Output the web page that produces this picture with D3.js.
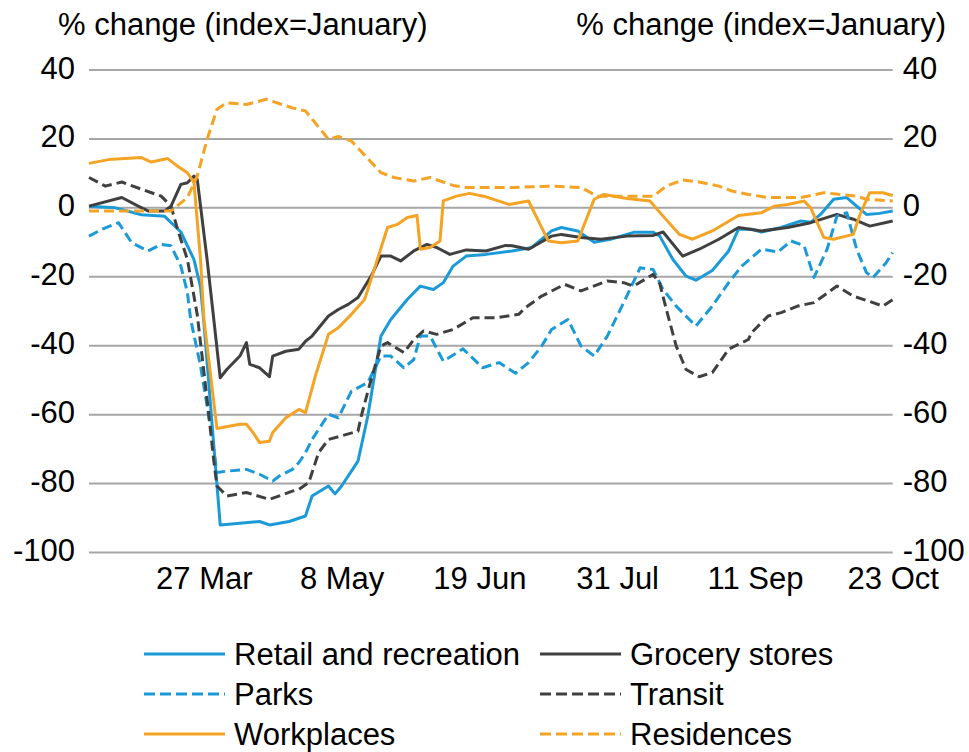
<!DOCTYPE html>
<html>
<head>
<meta charset="utf-8">
<script src="https://cdn.jsdelivr.net/npm/d3@7"></script>
<style>
  body { margin: 0; background: #fff; }
  text { font-family: "Liberation Sans", Arial, sans-serif; fill: #000; }
</style>
</head>
<body>
<div id="chart"></div>
<script>
// date range of the chart and the x tick labels
const dateRange = ['2020-02-21', '2020-10-23'];
const tickDates = ['2020-03-27', '2020-05-08', '2020-06-19', '2020-07-31', '2020-09-11', '2020-10-23'];
const yTicks = [40, 20, 0, -20, -40, -60, -80, -100];
const axisTitle = '% change (index=January)';

// series: [date, % change]
const retail = [
  ['2020-02-21', 0.5], ['2020-02-29', 0], ['2020-03-08', -2], ['2020-03-15', -2.4], ['2020-03-20', -7],
  ['2020-03-24', -15], ['2020-03-26', -23], ['2020-03-27', -33], ['2020-04-01', -92], ['2020-04-07', -91.5],
  ['2020-04-13', -91], ['2020-04-16', -92], ['2020-04-22', -91], ['2020-04-27', -89.4], ['2020-04-29', -83.6],
  ['2020-05-04', -80.7], ['2020-05-06', -83], ['2020-05-08', -80.7], ['2020-05-13', -73.5], ['2020-05-16', -60.4],
  ['2020-05-20', -37.2], ['2020-05-23', -32.4], ['2020-05-28', -26.6], ['2020-06-01', -22.7], ['2020-06-05', -23.7],
  ['2020-06-08', -21.7], ['2020-06-11', -16.9], ['2020-06-15', -14], ['2020-06-21', -13.5], ['2020-06-29', -12.5],
  ['2020-07-05', -11.5], ['2020-07-11', -6.7], ['2020-07-14', -5.7], ['2020-07-19', -6.7], ['2020-07-24', -10],
  ['2020-07-29', -9.1], ['2020-08-05', -7.1], ['2020-08-11', -7.1], ['2020-08-13', -8.2], ['2020-08-17', -15],
  ['2020-08-21', -19.8], ['2020-08-24', -21], ['2020-08-29', -18.2], ['2020-09-03', -12.5], ['2020-09-06', -6.2],
  ['2020-09-10', -6.2], ['2020-09-13', -7], ['2020-09-19', -5.7], ['2020-09-25', -3.8], ['2020-09-28', -4.2],
  ['2020-10-01', -1.9], ['2020-10-05', 2.5], ['2020-10-09', 3], ['2020-10-12', 0.5], ['2020-10-15', -1.9],
  ['2020-10-19', -1.6], ['2020-10-23', -0.9]
];
const grocery = [
  ['2020-02-21', 0.5], ['2020-03-02', 3], ['2020-03-07', 0.5], ['2020-03-10', -0.9], ['2020-03-15', -0.9],
  ['2020-03-17', 0.5], ['2020-03-20', 6.8], ['2020-03-22', 7.3], ['2020-03-24', 9.2], ['2020-03-25', 8.3],
  ['2020-03-28', -15], ['2020-03-30', -32], ['2020-04-01', -49.3], ['2020-04-03', -46.9], ['2020-04-07', -43],
  ['2020-04-09', -39.1], ['2020-04-10', -45.4], ['2020-04-13', -46.4], ['2020-04-16', -49], ['2020-04-17', -43],
  ['2020-04-21', -41.6], ['2020-04-25', -41], ['2020-04-27', -38.7], ['2020-04-29', -37.2], ['2020-05-04', -31.4],
  ['2020-05-07', -29.5], ['2020-05-10', -28], ['2020-05-13', -26], ['2020-05-17', -19.8], ['2020-05-20', -14],
  ['2020-05-23', -14], ['2020-05-26', -15.4], ['2020-05-30', -12.5], ['2020-06-03', -10.6], ['2020-06-06', -11.5],
  ['2020-06-10', -13.5], ['2020-06-15', -12.2], ['2020-06-21', -12.5], ['2020-06-27', -10.9], ['2020-06-29', -11],
  ['2020-07-04', -12], ['2020-07-11', -8.2], ['2020-07-14', -7.7], ['2020-07-20', -8.6], ['2020-07-26', -9.1],
  ['2020-08-03', -8.2], ['2020-08-11', -8], ['2020-08-14', -7], ['2020-08-20', -14], ['2020-08-25', -12],
  ['2020-08-31', -9.1], ['2020-09-06', -5.7], ['2020-09-13', -6.7], ['2020-09-21', -5.7], ['2020-09-28', -4.3],
  ['2020-10-06', -1.9], ['2020-10-11', -3.3], ['2020-10-16', -5.3], ['2020-10-23', -3.8]
];
const parks = [
  ['2020-02-21', -8.2], ['2020-02-25', -6.2], ['2020-03-01', -4.3], ['2020-03-05', -10.1], ['2020-03-10', -12.5],
  ['2020-03-14', -10.6], ['2020-03-17', -11], ['2020-03-20', -16.9], ['2020-03-22', -24.6], ['2020-03-23', -32.4],
  ['2020-03-26', -45.9], ['2020-03-29', -63.3], ['2020-03-31', -76.8], ['2020-04-03', -76.4], ['2020-04-09', -75.9],
  ['2020-04-13', -77.3], ['2020-04-17', -79.3], ['2020-04-19', -77.8], ['2020-04-23', -75.9], ['2020-04-25', -73.9],
  ['2020-04-27', -71], ['2020-04-29', -67.2], ['2020-05-04', -59.9], ['2020-05-07', -60.9], ['2020-05-11', -53.2],
  ['2020-05-16', -50.7], ['2020-05-20', -43], ['2020-05-23', -43], ['2020-05-27', -46.4], ['2020-05-30', -44],
  ['2020-06-01', -37.2], ['2020-06-04', -37.2], ['2020-06-08', -44.5], ['2020-06-14', -40.9], ['2020-06-20', -46.4],
  ['2020-06-25', -44.9], ['2020-06-30', -48], ['2020-07-04', -44.9], ['2020-07-08', -40.1], ['2020-07-11', -35.3],
  ['2020-07-16', -32.4], ['2020-07-20', -40.1], ['2020-07-24', -43], ['2020-07-28', -37.2], ['2020-08-02', -27.5],
  ['2020-08-07', -17.4], ['2020-08-11', -17.9], ['2020-08-14', -23.7], ['2020-08-18', -28.5], ['2020-08-21', -31.4],
  ['2020-08-24', -34.3], ['2020-08-29', -28.5], ['2020-09-03', -21.7], ['2020-09-07', -16.9], ['2020-09-13', -12],
  ['2020-09-18', -12.8], ['2020-09-22', -9.6], ['2020-09-26', -11], ['2020-09-29', -20.2], ['2020-10-03', -12],
  ['2020-10-06', -2.4], ['2020-10-09', -1.4], ['2020-10-12', -12], ['2020-10-15', -18.8], ['2020-10-17', -20.2],
  ['2020-10-21', -15.9], ['2020-10-23', -13]
];
const transit = [
  ['2020-02-21', 8.8], ['2020-02-26', 6.3], ['2020-03-02', 7.5], ['2020-03-08', 5.4], ['2020-03-14', 3.4],
  ['2020-03-17', 0.5], ['2020-03-19', -6.2], ['2020-03-22', -15], ['2020-03-25', -31], ['2020-03-28', -55.6],
  ['2020-03-30', -73], ['2020-03-31', -80.7], ['2020-04-03', -83.6], ['2020-04-09', -82.6], ['2020-04-16', -84.6],
  ['2020-04-23', -82.2], ['2020-04-25', -81.7], ['2020-04-28', -79.7], ['2020-05-01', -71], ['2020-05-04', -67.2],
  ['2020-05-13', -64.8], ['2020-05-14', -60.4], ['2020-05-17', -49.8], ['2020-05-20', -40.1], ['2020-05-22', -39.1],
  ['2020-05-27', -42], ['2020-05-30', -38.2], ['2020-06-02', -35.7], ['2020-06-06', -36.7], ['2020-06-11', -35.3],
  ['2020-06-17', -31.9], ['2020-06-24', -31.9], ['2020-07-01', -30.9], ['2020-07-03', -29], ['2020-07-08', -25.6],
  ['2020-07-15', -22.2], ['2020-07-20', -24.1], ['2020-07-28', -21.2], ['2020-08-02', -21.7], ['2020-08-05', -22.7],
  ['2020-08-11', -19.3], ['2020-08-13', -22], ['2020-08-15', -29.5], ['2020-08-18', -40.1], ['2020-08-21', -46.9],
  ['2020-08-25', -49], ['2020-08-29', -47.8], ['2020-09-03', -41], ['2020-09-09', -38.2], ['2020-09-10', -36.2],
  ['2020-09-15', -31.4], ['2020-09-19', -30.4], ['2020-09-24', -28.5], ['2020-09-29', -27.5], ['2020-10-06', -22.7],
  ['2020-10-11', -25.6], ['2020-10-17', -27.5], ['2020-10-20', -28.5], ['2020-10-23', -26.6]
];
const workplaces = [
  ['2020-02-21', 12.9], ['2020-02-27', 14], ['2020-03-08', 14.6], ['2020-03-11', 13.3], ['2020-03-16', 14.3],
  ['2020-03-19', 12.1], ['2020-03-22', 10.2], ['2020-03-24', 7.3], ['2020-03-26', -15], ['2020-03-27', -32],
  ['2020-03-31', -64], ['2020-04-07', -62.8], ['2020-04-09', -62.8], ['2020-04-11', -65.2], ['2020-04-13', -68.1],
  ['2020-04-16', -67.7], ['2020-04-17', -65.2], ['2020-04-21', -60.9], ['2020-04-25', -58.5], ['2020-04-27', -59.4],
  ['2020-04-30', -48.8], ['2020-05-04', -36.7], ['2020-05-07', -34.8], ['2020-05-11', -30.9], ['2020-05-15', -26.6],
  ['2020-05-17', -20.7], ['2020-05-22', -5.7], ['2020-05-25', -4.8], ['2020-05-28', -2.8], ['2020-05-31', -2.2],
  ['2020-06-01', -12], ['2020-06-04', -11.5], ['2020-06-07', -9.6], ['2020-06-08', 2], ['2020-06-12', 3.4],
  ['2020-06-16', 4.2], ['2020-06-21', 3.2], ['2020-06-28', 1], ['2020-07-04', 2], ['2020-07-10', -9.6],
  ['2020-07-14', -10.1], ['2020-07-19', -9.6], ['2020-07-24', 2.5], ['2020-07-27', 3.9], ['2020-08-03', 2.7],
  ['2020-08-10', 2], ['2020-08-14', -2.4], ['2020-08-19', -7.7], ['2020-08-23', -9.1], ['2020-08-29', -6.7],
  ['2020-09-06', -2.2], ['2020-09-13', -1.4], ['2020-09-17', 0.5], ['2020-09-21', 1], ['2020-09-26', 2],
  ['2020-09-28', 0], ['2020-10-02', -8.6], ['2020-10-05', -9.1], ['2020-10-11', -7.7], ['2020-10-13', -2],
  ['2020-10-16', 4.4], ['2020-10-20', 4.4], ['2020-10-23', 3.6]
];
const residences = [
  ['2020-02-21', -0.9], ['2020-03-17', -0.9], ['2020-03-22', 3], ['2020-03-25', 9.2], ['2020-03-28', 19.9],
  ['2020-03-31', 28.6], ['2020-04-03', 30.5], ['2020-04-09', 30], ['2020-04-15', 31.5], ['2020-04-23', 29],
  ['2020-04-27', 28.1], ['2020-05-04', 19.9], ['2020-05-07', 20.7], ['2020-05-11', 19.4], ['2020-05-20', 10.2],
  ['2020-05-24', 8.8], ['2020-05-30', 7.8], ['2020-06-04', 8.8], ['2020-06-11', 6.5], ['2020-06-15', 5.9],
  ['2020-06-29', 5.9], ['2020-07-11', 6.3], ['2020-07-20', 5.9], ['2020-07-25', 3.4], ['2020-08-11', 3.4],
  ['2020-08-15', 6.3], ['2020-08-20', 8.1], ['2020-08-25', 7.5], ['2020-08-31', 6.3], ['2020-09-04', 4.9],
  ['2020-09-09', 3.9], ['2020-09-15', 3], ['2020-09-25', 3], ['2020-10-02', 4.4], ['2020-10-07', 3.9],
  ['2020-10-12', 3.4], ['2020-10-15', 2.5], ['2020-10-23', 2]
];

const series = [
  { name: 'Retail and recreation', data: retail, color: '#1b9ad8', dash: null },
  { name: 'Grocery stores', data: grocery, color: '#404040', dash: null },
  { name: 'Parks', data: parks, color: '#1b9ad8', dash: '10,5' },
  { name: 'Transit', data: transit, color: '#404040', dash: '10,5' },
  { name: 'Workplaces', data: workplaces, color: '#f4a325', dash: null },
  { name: 'Residences', data: residences, color: '#f4a325', dash: '10,5' }
];

const width = 969;
const height = 752;
const fontSize = 31;
const parseDate = d3.timeParse('%Y-%m-%d');
const fmt = d3.timeFormat('%-d %b');

const svg = d3
  .select('#chart')
  .append('svg')
  .attr('width', width)
  .attr('height', height);

const x = d3.scaleTime().domain(dateRange.map(parseDate)).range([89, 892.7]);
const y = d3.scaleLinear().domain([-100, 40]).range([552.5, 70]);

// gridlines
svg
  .append('g')
  .selectAll('line')
  .data(yTicks)
  .join('line')
  .attr('x1', x.range()[0])
  .attr('x2', x.range()[1])
  .attr('y1', d => y(d))
  .attr('y2', d => y(d))
  .attr('stroke', '#a6a6a6')
  .attr('stroke-width', 2);

// left and right value axes (plain hyphen minus, like the original)
const yLeft = d3.axisLeft(y).tickValues(yTicks).tickFormat(d => String(d)).tickSize(0).tickPadding(14);
const yRight = d3.axisRight(y).tickValues(yTicks).tickFormat(d => String(d)).tickSize(0).tickPadding(10);

svg
  .append('g')
  .attr('class', 'y axis')
  .attr('transform', 'translate(' + x.range()[0] + ',0)')
  .call(yLeft);

svg
  .append('g')
  .attr('class', 'y axis')
  .attr('transform', 'translate(' + x.range()[1] + ',0)')
  .call(yRight);

// bottom date axis
const xAxis = d3
  .axisBottom(x)
  .tickValues(tickDates.map(parseDate))
  .tickFormat(fmt)
  .tickSize(0)
  .tickPadding(14);

svg
  .append('g')
  .attr('class', 'x axis')
  .attr('transform', 'translate(0,' + y(-100) + ')')
  .call(xAxis);

svg.selectAll('.axis path').remove();
svg
  .selectAll('.axis text')
  .style('font-size', fontSize + 'px')
  .style('font-family', '"Liberation Sans", Arial, sans-serif')
  .attr('fill', '#000');
svg.selectAll('.y.axis text').attr('dy', '0.26em');
svg.selectAll('.x.axis text').attr('dy', '0.71em');

// axis titles
svg
  .append('text')
  .attr('x', 58)
  .attr('y', 35)
  .style('font-size', fontSize + 'px')
  .text(axisTitle);

svg
  .append('text')
  .attr('x', 946)
  .attr('y', 35)
  .style('text-anchor', 'end')
  .style('font-size', fontSize + 'px')
  .text(axisTitle);

// lines
const line = d3
  .line()
  .x(d => x(parseDate(d[0])))
  .y(d => y(d[1]));

svg
  .append('g')
  .selectAll('path')
  .data(series)
  .join('path')
  .attr('d', d => line(d.data))
  .attr('fill', 'none')
  .attr('stroke', d => d.color)
  .attr('stroke-width', 3)
  .attr('stroke-linejoin', 'round')
  .attr('stroke-dasharray', d => d.dash);

// legend, two columns
const legend = svg
  .append('g')
  .selectAll('g')
  .data(series)
  .join('g')
  .attr('transform', (d, i) => 'translate(' + (i % 2 === 0 ? 144 : 540) + ',' + (654 + Math.floor(i / 2) * 40) + ')');

legend
  .append('line')
  .attr('x1', 0)
  .attr('x2', 81)
  .attr('stroke', d => d.color)
  .attr('stroke-width', 3)
  .attr('stroke-dasharray', d => (d.dash ? '11,5' : null));

legend
  .append('text')
  .attr('x', 90)
  .attr('y', 11)
  .style('font-size', fontSize + 'px')
  .text(d => d.name);
</script>
</body>
</html>
